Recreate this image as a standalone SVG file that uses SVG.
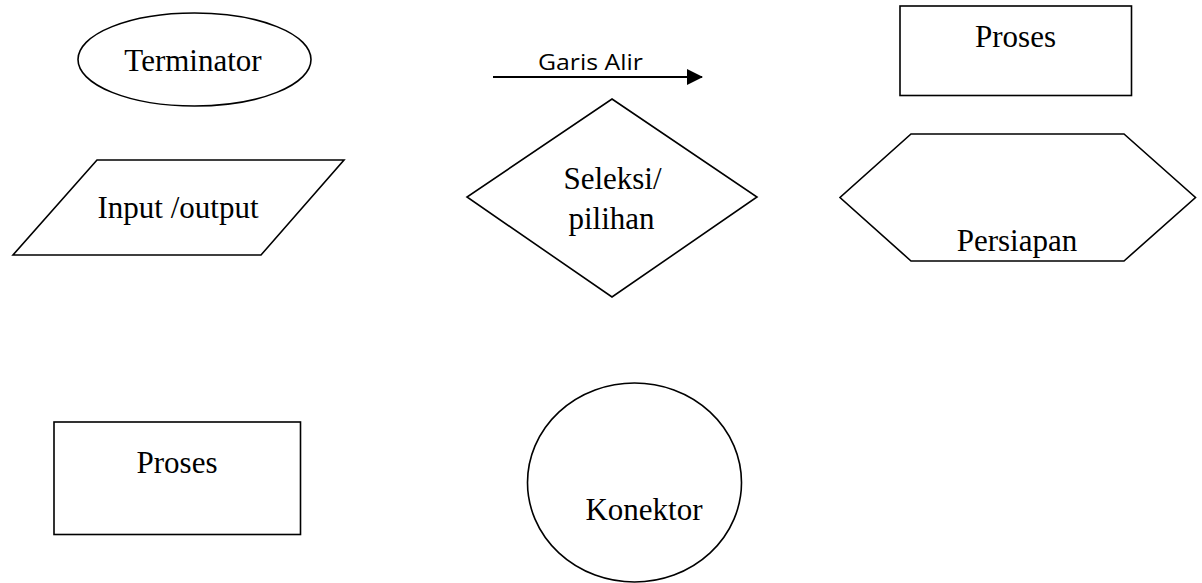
<svg xmlns="http://www.w3.org/2000/svg" width="1202" height="583" viewBox="0 0 1202 583">
<style>
.s{fill:#fff;stroke:#000;stroke-width:1.6}
.t{font-family:"Liberation Serif","Times New Roman",serif;font-size:31px;fill:#000;text-anchor:middle}
.c{font-family:"Open Sans","Liberation Sans",sans-serif;font-size:21px;fill:#000}
</style>
<defs>
<marker id="ah" viewBox="0 0 16 16" refX="15" refY="8" markerWidth="16" markerHeight="16" markerUnits="userSpaceOnUse" orient="auto">
<path d="M0,0 L16,8 L0,16 Z" fill="#000"/>
</marker>
</defs>
<rect width="1202" height="583" fill="#fff"/>
<g id="terminator">
<ellipse class="s" cx="194.5" cy="59.5" rx="116.5" ry="46.5"/>
<text class="t" x="193" y="71">Terminator</text>
</g>
<g id="io">
<polygon class="s" points="97,160 344,160 261,255 13,255"/>
<text class="t" x="178" y="218">Input /output</text>
</g>
<g id="connectors">
<line x1="493" y1="77" x2="702" y2="77" stroke="#000" stroke-width="2" marker-end="url(#ah)"/>
<text class="c" x="538" y="70" textLength="105" lengthAdjust="spacingAndGlyphs">Garis Alir</text>
</g>
<g id="seleksi">
<polygon class="s" points="612,99 757,197 612,297 467,197"/>
<text class="t" x="612.5" y="189">Seleksi/</text>
<text class="t" x="611.5" y="229">pilihan</text>
</g>
<g id="proses1">
<rect class="s" x="900" y="6" width="231.5" height="89.5"/>
<text class="t" x="1015.5" y="47">Proses</text>
</g>
<g id="persiapan">
<polygon class="s" points="911,134 1124,134 1195.5,197.5 1124,261 911,261 840,197.5"/>
<text class="t" x="1017" y="251">Persiapan</text>
</g>
<g id="proses2">
<rect class="s" x="54" y="422" width="246.5" height="112.5"/>
<text class="t" x="177" y="473">Proses</text>
</g>
<g id="konektor">
<ellipse class="s" cx="634.5" cy="482.5" rx="107" ry="99.5"/>
<text class="t" x="644" y="520">Konektor</text>
</g>
</svg>
